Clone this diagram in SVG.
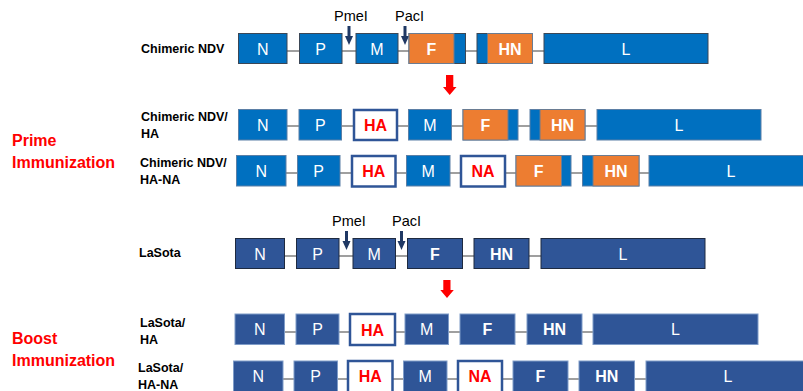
<svg xmlns="http://www.w3.org/2000/svg" width="803" height="391" viewBox="0 0 803 391">
<defs>
<style>
text{font-family:"Liberation Sans",Arial,sans-serif}
.cb{fill:#0070C0;stroke:#3B4756;stroke-width:1}
.cb2{fill:#0070C0;stroke:#5B7FA6;stroke-width:1}
.or{fill:#ED7D31;stroke:#6A7C92;stroke-width:1}
.ls{fill:#2F5597;stroke:#1E2A40;stroke-width:1}
.ls2{fill:#2F5597;stroke:#7F9CC8;stroke-width:1}
.ins{fill:#FFFFFF;stroke:#2F5597;stroke-width:2.5}
.ln{stroke:#7F7F7F;stroke-width:1.5;fill:none}
.bt{fill:#FFFFFF;font-size:16px;text-anchor:middle}
.bb{fill:#FFFFFF;font-size:16px;font-weight:bold;text-anchor:middle}
.rt{fill:#FF0000;font-size:16px;font-weight:bold;text-anchor:middle}
.lab{fill:#000000;font-size:12.5px;font-weight:bold}
.grp{fill:#FF0000;font-size:16px;font-weight:bold}
.enz{fill:#000000;font-size:14.5px}
.site{stroke:#1F3864;stroke-width:3;fill:none}
.sitehead{fill:#1F3864}
.red{fill:#FF0000}
</style>
</defs>

<g id="connectors">
<line class="ln" x1="287" y1="51" x2="299" y2="51"/>
<line class="ln" x1="342" y1="51" x2="356" y2="51"/>
<line class="ln" x1="398" y1="51" x2="409" y2="51"/>
<line class="ln" x1="466" y1="51" x2="477" y2="51"/>
<line class="ln" x1="533" y1="51" x2="544" y2="51"/>
<line class="ln" x1="287" y1="126" x2="299" y2="126"/>
<line class="ln" x1="342" y1="126" x2="353" y2="126"/>
<line class="ln" x1="397" y1="126" x2="408" y2="126"/>
<line class="ln" x1="452" y1="126" x2="463" y2="126"/>
<line class="ln" x1="518" y1="126" x2="530" y2="126"/>
<line class="ln" x1="585" y1="126" x2="597" y2="126"/>
<line class="ln" x1="286" y1="173" x2="297" y2="173"/>
<line class="ln" x1="340" y1="173" x2="351" y2="173"/>
<line class="ln" x1="395" y1="173" x2="406" y2="173"/>
<line class="ln" x1="450" y1="173" x2="460" y2="173"/>
<line class="ln" x1="505" y1="173" x2="516" y2="173"/>
<line class="ln" x1="571" y1="173" x2="582" y2="173"/>
<line class="ln" x1="639" y1="173" x2="649" y2="173"/>
<line class="ln" x1="284" y1="256" x2="296" y2="256"/>
<line class="ln" x1="339" y1="256" x2="353" y2="256"/>
<line class="ln" x1="395" y1="256" x2="407" y2="256"/>
<line class="ln" x1="462" y1="256" x2="474" y2="256"/>
<line class="ln" x1="529" y1="256" x2="541" y2="256"/>
<line class="ln" x1="284" y1="332" x2="296" y2="332"/>
<line class="ln" x1="339" y1="332" x2="349" y2="332"/>
<line class="ln" x1="395" y1="332" x2="405" y2="332"/>
<line class="ln" x1="448" y1="332" x2="460" y2="332"/>
<line class="ln" x1="515" y1="332" x2="527" y2="332"/>
<line class="ln" x1="582" y1="332" x2="593" y2="332"/>
<line class="ln" x1="283" y1="379" x2="294" y2="379"/>
<line class="ln" x1="337" y1="379" x2="347" y2="379"/>
<line class="ln" x1="392" y1="379" x2="403" y2="379"/>
<line class="ln" x1="447" y1="379" x2="457" y2="379"/>
<line class="ln" x1="502" y1="379" x2="513" y2="379"/>
<line class="ln" x1="568" y1="379" x2="579" y2="379"/>
<line class="ln" x1="634" y1="379" x2="646" y2="379"/>
</g>

<g id="labels">
<text class="lab" x="141" y="52.5">Chimeric NDV</text>
<text class="lab" x="141" y="121">Chimeric NDV/</text>
<text class="lab" x="141" y="138">HA</text>
<text class="lab" x="140" y="167">Chimeric NDV/</text>
<text class="lab" x="140" y="184">HA-NA</text>
<text class="lab" x="139" y="257">LaSota</text>
<text class="lab" x="140" y="327">LaSota/</text>
<text class="lab" x="140" y="344">HA</text>
<text class="lab" x="138" y="372">LaSota/</text>
<text class="lab" x="138" y="389">HA-NA</text>
<text class="grp" x="12" y="146">Prime</text>
<text class="grp" x="12" y="168">Immunization</text>
<text class="grp" x="12" y="344">Boost</text>
<text class="grp" x="12" y="366">Immunization</text>
</g>

<g id="sites1">
<text class="enz" x="334" y="21">PmeI</text>
<line class="site" x1="349" y1="26" x2="349" y2="38"/>
<polygon class="sitehead" points="345,36 353,36 349,45"/>
<text class="enz" x="395" y="21">PacI</text>
<line class="site" x1="405" y1="26" x2="405" y2="38"/>
<polygon class="sitehead" points="401,36 409,36 405,45"/>
</g>
<g id="sites4">
<text class="enz" x="332" y="226">PmeI</text>
<line class="site" x1="346.5" y1="231" x2="346.5" y2="243"/>
<polygon class="sitehead" points="342.5,241 350.5,241 346.5,250"/>
<text class="enz" x="392" y="226">PacI</text>
<line class="site" x1="401.5" y1="231" x2="401.5" y2="243"/>
<polygon class="sitehead" points="397.5,241 405.5,241 401.5,250"/>
</g>

<g id="arrow1"><polygon class="red" points="446,75 453.3,75 453.3,87 456.5,87 449.7,95 443,87 446,87"/></g>
<g id="arrow2"><polygon class="red" points="443.3,280 450.5,280 450.5,290 453.8,290 447,298 440.3,290 443.3,290"/></g>

<g id="r1">
<g id="r1-N"><rect class="cb" x="238.5" y="33.5" width="48.5" height="30"/><text class="bt" x="262.7" y="54.5">N</text></g>
<g id="r1-P"><rect class="cb" x="299.5" y="33.5" width="42.5" height="30"/><text class="bt" x="320.7" y="54.5">P</text></g>
<g id="r1-M"><rect class="cb" x="356" y="33.5" width="42" height="30"/><text class="bt" x="377" y="54.5">M</text></g>
<g id="r1-F"><rect class="cb" x="409" y="33.5" width="56.5" height="30"/><rect class="or" x="409" y="33.5" width="45" height="30"/><text class="bb" x="431.5" y="54.5">F</text></g>
<g id="r1-HN"><rect class="cb" x="477" y="33.5" width="55.5" height="30"/><rect class="or" x="487.5" y="33.5" width="45" height="30"/><text class="bb" x="510" y="54.5">HN</text></g>
<g id="r1-L"><rect class="cb" x="544" y="33.5" width="164" height="30"/><text class="bt" x="626" y="54.5">L</text></g>
</g>

<g id="r2">
<g id="r2-N"><rect class="cb2" x="238.5" y="109.5" width="48.5" height="30.5"/><text class="bt" x="262.7" y="130.5">N</text></g>
<g id="r2-P"><rect class="cb2" x="299" y="109.5" width="42.5" height="30.5"/><text class="bt" x="320.3" y="130.5">P</text></g>
<g id="r2-HA"><rect class="ins" x="354" y="110" width="43" height="30"/><text class="rt" x="375.5" y="130.5">HA</text></g>
<g id="r2-M"><rect class="cb2" x="408.5" y="109.5" width="43" height="30.5"/><text class="bt" x="430" y="130.5">M</text></g>
<g id="r2-F"><rect class="cb2" x="463" y="109.5" width="55" height="30.5"/><rect class="or" x="463" y="109.5" width="45" height="30.5"/><text class="bb" x="485.5" y="130.5">F</text></g>
<g id="r2-HN"><rect class="cb2" x="530" y="109.5" width="55" height="30.5"/><rect class="or" x="540" y="109.5" width="45" height="30.5"/><text class="bb" x="562.5" y="130.5">HN</text></g>
<g id="r2-L"><rect class="cb2" x="597" y="109.5" width="164" height="30.5"/><text class="bt" x="679" y="130.5">L</text></g>
</g>

<g id="r3">
<g id="r3-N"><rect class="cb2" x="236.5" y="155.5" width="49.5" height="30.5"/><text class="bt" x="261.2" y="176.5">N</text></g>
<g id="r3-P"><rect class="cb2" x="297.5" y="155.5" width="42.5" height="30.5"/><text class="bt" x="318.7" y="176.5">P</text></g>
<g id="r3-HA"><rect class="ins" x="352" y="156" width="43.5" height="30.5"/><text class="rt" x="373.7" y="177">HA</text></g>
<g id="r3-M"><rect class="cb2" x="406.5" y="155.5" width="43.5" height="30.5"/><text class="bt" x="428.2" y="176.5">M</text></g>
<g id="r3-NA"><rect class="ins" x="461" y="156" width="44" height="30.5"/><text class="rt" x="483" y="177">NA</text></g>
<g id="r3-F"><rect class="cb2" x="516" y="155.5" width="55" height="30.5"/><rect class="or" x="516" y="155.5" width="45.5" height="30.5"/><text class="bb" x="538.7" y="176.5">F</text></g>
<g id="r3-HN"><rect class="cb2" x="582.5" y="155.5" width="56.5" height="30.5"/><rect class="or" x="593" y="155.5" width="46" height="30.5"/><text class="bb" x="616" y="176.5">HN</text></g>
<g id="r3-L"><rect class="cb2" x="649" y="155.5" width="160" height="30.5"/><text class="bt" x="731" y="176.5">L</text></g>
</g>

<g id="r4">
<g id="r4-N"><rect class="ls" x="235.5" y="238.5" width="49" height="30"/><text class="bt" x="260" y="259.5">N</text></g>
<g id="r4-P"><rect class="ls" x="296.5" y="238.5" width="42.5" height="30"/><text class="bt" x="317.7" y="259.5">P</text></g>
<g id="r4-M"><rect class="ls" x="353" y="238.5" width="42.5" height="30"/><text class="bt" x="374.2" y="259.5">M</text></g>
<g id="r4-F"><rect class="ls" x="407.5" y="238.5" width="55" height="30"/><text class="bb" x="435" y="259.5">F</text></g>
<g id="r4-HN"><rect class="ls" x="474" y="238.5" width="55" height="30"/><text class="bb" x="501.5" y="259.5">HN</text></g>
<g id="r4-L"><rect class="ls" x="541" y="238.5" width="164" height="30"/><text class="bt" x="623" y="259.5">L</text></g>
</g>

<g id="r5">
<g id="r5-N"><rect class="ls2" x="235" y="314" width="49.5" height="30.5"/><text class="bt" x="259.7" y="335">N</text></g>
<g id="r5-P"><rect class="ls2" x="296" y="314" width="43" height="30.5"/><text class="bt" x="317.5" y="335">P</text></g>
<g id="r5-HA"><rect class="ins" x="350" y="314" width="45" height="31"/><text class="rt" x="372.5" y="335.5">HA</text></g>
<g id="r5-M"><rect class="ls2" x="405" y="314" width="43.5" height="30.5"/><text class="bt" x="426.7" y="335">M</text></g>
<g id="r5-F"><rect class="ls2" x="460" y="314" width="55" height="30.5"/><text class="bb" x="487.5" y="335">F</text></g>
<g id="r5-HN"><rect class="ls2" x="527" y="314" width="55" height="30.5"/><text class="bb" x="554.5" y="335">HN</text></g>
<g id="r5-L"><rect class="ls2" x="593" y="314" width="165" height="30.5"/><text class="bt" x="675.5" y="335">L</text></g>
</g>

<g id="r6">
<g id="r6-N"><rect class="ls2" x="233.5" y="361" width="49.5" height="32"/><text class="bt" x="258.2" y="382">N</text></g>
<g id="r6-P"><rect class="ls2" x="294" y="361" width="43.5" height="32"/><text class="bt" x="315.7" y="382">P</text></g>
<g id="r6-HA"><rect class="ins" x="348" y="361" width="44.5" height="32"/><text class="rt" x="370.2" y="382">HA</text></g>
<g id="r6-M"><rect class="ls2" x="403.5" y="361" width="43.5" height="32"/><text class="bt" x="425.2" y="382">M</text></g>
<g id="r6-NA"><rect class="ins" x="458" y="361" width="44" height="32"/><text class="rt" x="480" y="382">NA</text></g>
<g id="r6-F"><rect class="ls2" x="513" y="361" width="55" height="32"/><text class="bb" x="540.5" y="382">F</text></g>
<g id="r6-HN"><rect class="ls2" x="579" y="361" width="55.5" height="32"/><text class="bb" x="606.7" y="382">HN</text></g>
<g id="r6-L"><rect class="ls2" x="646" y="361" width="160" height="32"/><text class="bt" x="728" y="382">L</text></g>
</g>
</svg>
